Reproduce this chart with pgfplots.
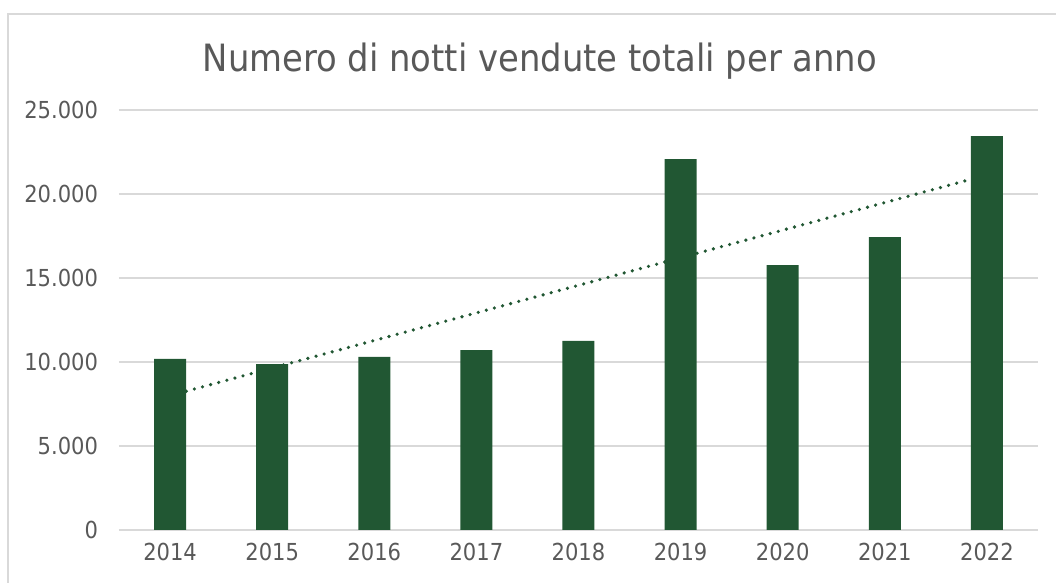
\documentclass[border=0pt]{standalone}
\usepackage{fontspec}
\setmainfont{DejaVu Sans Condensed}
\usepackage{pgfplots}
\pgfplotsset{compat=1.18}
\definecolor{barverde}{RGB}{33,87,51}
\definecolor{griglia}{RGB}{217,217,217}
\definecolor{testo}{RGB}{89,89,89}
\begin{document}
\begin{tikzpicture}
  % page = 1056x583 px, 1 px = 0.5pt, axis origin at px (119,530)
  \useasboundingbox (-59.5pt,-26.5pt) rectangle (468.5pt,265pt);
  \draw[griglia, line width=0.75pt] (-55.5pt,-40pt) -- (-55.5pt,258pt) -- (480pt,258pt);
  \node[font=\fontsize{18.8}{22}\selectfont, text=testo] at (210.5pt,234.5pt)
    {Numero di notti vendute totali per anno};
  \begin{axis}[
    at={(0,0)}, anchor=south west,
    scale only axis,
    width=459.5pt, height=210pt,
    xmin=-0.5, xmax=8.5,
    ymin=0, ymax=25000,
    xtick={0,...,8},
    xticklabels={2014,2015,2016,2017,2018,2019,2020,2021,2022},
    ytick={0,5000,...,25000},
    scaled y ticks=false,
    ymajorgrids,
    grid style={griglia, line width=0.75pt},
    axis line style={draw=none},
    major tick length=0pt,
    tick label style={font=\fontsize{11.7}{14}\selectfont, text=testo},
    yticklabel style={xshift=-7pt},
    xticklabel style={yshift=-3pt},
    /pgf/number format/assume math mode=true,
    /pgf/number format/1000 sep={.},
  ]
    \addplot[ybar, bar width=16pt, fill=barverde, draw=none] coordinates {
      (0,10180) (1,9880) (2,10300) (3,10710) (4,11250)
      (5,22080) (6,15770) (7,17440) (8,23450)
    };
    \addplot[sharp plot, barverde, line width=1.8pt, line cap=round,
      dash pattern=on 0pt off 4.2pt] coordinates {(0,8000) (8,21130)};
  \end{axis}
\end{tikzpicture}
\end{document}
